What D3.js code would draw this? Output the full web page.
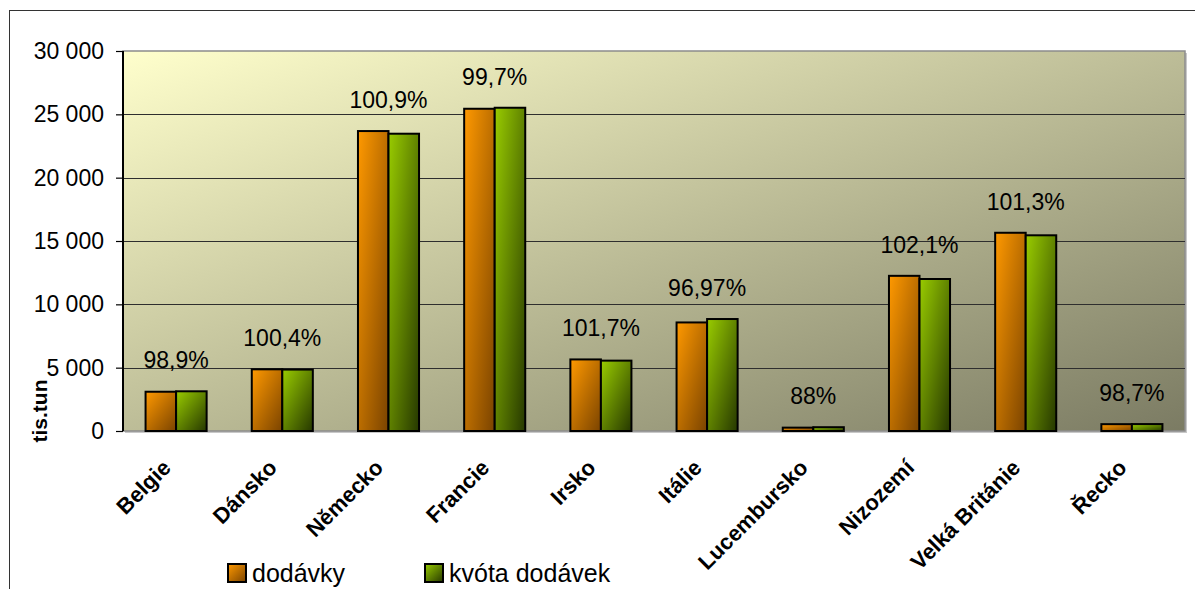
<!DOCTYPE html>
<html>
<head>
<meta charset="utf-8">
<script src="https://cdn.jsdelivr.net/npm/d3@7"></script>
<style>
	body { margin: 0; background: #fff; }
	svg { display: block; font-family: "Liberation Sans", Arial, sans-serif; }
</style>
</head>
<body>
<div id="chart"></div>
<script>
// data (thousand tonnes)
const categories = ['Belgie', 'Dánsko', 'Německo', 'Francie', 'Irsko', 'Itálie', 'Lucembursko', 'Nizozemí', 'Velká Británie', 'Řecko'];
const dodavky = [3100, 4870, 23680, 25440, 5650, 8570, 265, 12250, 15650, 540];
const kvota = [3135, 4850, 23470, 25520, 5555, 8840, 300, 12000, 15450, 547];
const percentLabels = ['98,9%', '100,4%', '100,9%', '99,7%', '101,7%', '96,97%', '88%', '102,1%', '101,3%', '98,7%'];
const seriesNames = ['dodávky', 'kvóta dodávek'];
const yTicks = [0, 5000, 10000, 15000, 20000, 25000, 30000];

const width = 1195, height = 589;
const margin = {top: 51, right: 10, bottom: 158, left: 123};
const plotW = width - margin.left - margin.right;
const plotH = height - margin.top - margin.bottom;

const svg = d3.select('#chart').append('svg')
	.attr('width', width)
	.attr('height', height);

const defs = svg.append('defs');

function diagGradient(id, from, to) {
	const g = defs.append('linearGradient')
		.attr('id', id)
		.attr('x1', 0).attr('y1', 0).attr('x2', 1).attr('y2', 1);
	g.append('stop').attr('offset', 0).attr('stop-color', from);
	g.append('stop').attr('offset', 1).attr('stop-color', to);
}
diagGradient('bg-grad', '#ffffcc', '#7b7b63');
diagGradient('orange-grad', '#ff9900', '#7a4300');
diagGradient('green-grad', '#99cc00', '#263800');
const fills = ['url(#orange-grad)', 'url(#green-grad)'];

// outer chart frame (only top and left edges fall inside the picture)
svg.append('rect')
	.attr('x', 9.5).attr('y', 10.5)
	.attr('width', 1200).attr('height', 600)
	.attr('fill', 'none')
	.attr('stroke', '#333')
	.attr('stroke-width', 1);

const g = svg.append('g').attr('transform', `translate(${margin.left},${margin.top})`);

const x = d3.scaleBand()
	.domain(categories)
	.range([0, plotW])
	.paddingInner(0.425)
	.paddingOuter(0.2125);

const xSeries = d3.scaleBand()
	.domain(d3.range(seriesNames.length))
	.range([0, x.bandwidth()]);

const y = d3.scaleLinear()
	.domain([0, 30000])
	.range([plotH, 0]);

// plot background + shadowed border
g.append('rect')
	.attr('x', 2).attr('y', 2)
	.attr('width', plotW).attr('height', plotH)
	.attr('fill', '#c8c8c8');
g.append('rect')
	.attr('width', plotW).attr('height', plotH)
	.attr('fill', 'url(#bg-grad)')
	.attr('stroke', '#8c8c8c')
	.attr('stroke-width', 1.5);

// gridlines
g.append('g')
	.selectAll('line')
	.data(yTicks.filter(d => d > 0 && d < 30000))
	.join('line')
	.attr('x1', 0).attr('x2', plotW)
	.attr('y1', d => Math.round(y(d)) + 0.5)
	.attr('y2', d => Math.round(y(d)) + 0.5)
	.attr('stroke', '#2e2e2e')
	.attr('stroke-width', 1);

// y axis
const yAxis = g.append('g')
	.call(d3.axisLeft(y)
		.tickValues(yTicks)
		.tickSize(7)
		.tickPadding(12)
		.tickFormat(d => d3.format(',')(d).replace(/,/g, ' ')));
yAxis.select('.domain').remove();
yAxis.selectAll('line').attr('stroke', '#000').attr('stroke-width', 1.2);
yAxis.selectAll('text')
	.attr('font-size', 23)
	.attr('font-family', '"Liberation Sans", Arial, sans-serif')
	.attr('fill', '#000');
g.append('line')
	.attr('x1', 0).attr('x2', 0)
	.attr('y1', 0).attr('y2', plotH)
	.attr('stroke', '#000')
	.attr('stroke-width', 2);

// bars
const groups = g.append('g')
	.selectAll('g')
	.data(categories)
	.join('g')
	.attr('transform', d => `translate(${x(d)},0)`);

groups.selectAll('rect')
	.data((d, i) => [dodavky[i], kvota[i]])
	.join('rect')
	.attr('x', (d, j) => xSeries(j))
	.attr('y', d => y(d))
	.attr('width', xSeries.bandwidth())
	.attr('height', d => plotH - y(d))
	.attr('fill', (d, j) => fills[j])
	.attr('stroke', '#000')
	.attr('stroke-width', 2);

// percentage labels
groups.append('text')
	.attr('x', x.bandwidth() / 2)
	.attr('y', (d, i) => y(Math.max(dodavky[i], kvota[i])) - 23)
	.attr('text-anchor', 'middle')
	.attr('font-size', 23)
	.attr('fill', '#000')
	.text((d, i) => percentLabels[i]);

// category labels, rotated
g.append('g')
	.selectAll('text')
	.data(categories)
	.join('text')
	.attr('transform', d => `translate(${x(d) + x.bandwidth() / 2 - 4},${plotH + 38}) rotate(-45)`)
	.attr('text-anchor', 'end')
	.attr('font-size', 22)
	.attr('font-weight', 'bold')
	.attr('fill', '#000')
	.text(d => d);

// y axis title
svg.append('text')
	.attr('transform', `translate(47,${margin.top + plotH - 20}) rotate(-90)`)
	.attr('text-anchor', 'middle')
	.attr('font-size', 21)
	.attr('font-weight', 'bold')
	.attr('fill', '#000')
	.text('tis.tun');

// legend
const legendX = [228, 425];
const legend = svg.append('g')
	.selectAll('g')
	.data(seriesNames)
	.join('g')
	.attr('transform', (d, i) => `translate(${legendX[i]},564)`);
legend.append('rect')
	.attr('width', 18).attr('height', 18)
	.attr('fill', (d, i) => fills[i])
	.attr('stroke', '#000')
	.attr('stroke-width', 2);
legend.append('text')
	.attr('x', 24)
	.attr('y', 18)
	.attr('font-size', 25)
	.attr('fill', '#000')
	.text(d => d);
</script>
</body>
</html>
